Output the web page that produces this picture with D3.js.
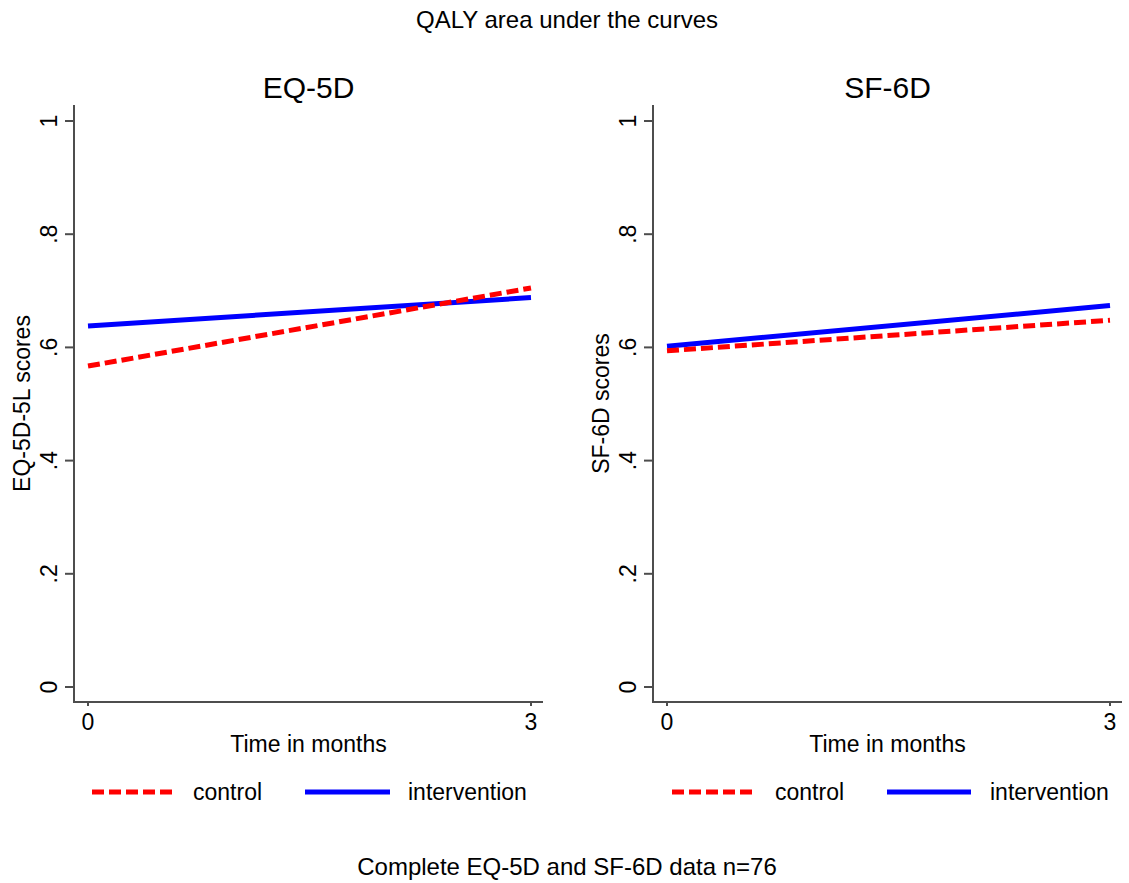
<!DOCTYPE html>
<html><head><meta charset="utf-8">
<script src="https://cdn.jsdelivr.net/npm/d3@7"></script>
<style>body{margin:0;background:#fff}text{font-family:"Liberation Sans",Arial,sans-serif;fill:#000}</style>
</head><body><svg id="c" width="1129" height="883"></svg>
<script>
const times = [0, 3];
const yTicks = [0, 0.2, 0.4, 0.6, 0.8, 1];
const yTickLabels = ["0", ".2", ".4", ".6", ".8", "1"];
const panelTitles = ["EQ-5D", "SF-6D"];
const yAxisTitles = ["EQ-5D-5L scores", "SF-6D scores"];
const eqControl = [0.567, 0.705];
const eqIntervention = [0.638, 0.688];
const sfControl = [0.594, 0.648];
const sfIntervention = [0.602, 0.674];
const seriesNames = ["control", "intervention"];

const svg = d3.select("#c");
const W = 1129, H = 883;
svg.append("rect").attr("width", W).attr("height", H).attr("fill", "#fff");

svg.append("text").attr("x", 567).attr("y", 28).attr("text-anchor", "middle")
  .style("font-size", "24px").text("QALY area under the curves");
svg.append("text").attr("x", 567).attr("y", 875).attr("text-anchor", "middle")
  .style("font-size", "24px").text("Complete EQ-5D and SF-6D data n=76");

const panels = [
  {axisX: 74, x0: 88, x1: 531, xEnd: 543, title: panelTitles[0], ytitle: yAxisTitles[0], ctrl: eqControl, intv: eqIntervention,
   leg: [92, 173, 193, 305, 390, 408]},
  {axisX: 653, x0: 667, x1: 1110, xEnd: 1122, title: panelTitles[1], ytitle: yAxisTitles[1], ctrl: sfControl, intv: sfIntervention,
   leg: [672, 754, 775, 887, 971, 990]}
];
const y = d3.scaleLinear().domain([0, 1]).range([687, 121]);
const axisY = 702, axisTop = 105;
const axisColor = "#4d4d4d";
const fs = "23px";

panels.forEach(p => {
  const g = svg.append("g");
  const x = d3.scaleLinear().domain([0, 3]).range([p.x0, p.x1]);
  g.append("line").attr("x1", p.axisX).attr("x2", p.axisX).attr("y1", axisTop).attr("y2", axisY + 1)
    .attr("stroke", axisColor).attr("stroke-width", 2);
  g.append("line").attr("x1", p.axisX - 1).attr("x2", p.xEnd).attr("y1", axisY).attr("y2", axisY)
    .attr("stroke", axisColor).attr("stroke-width", 2);
  yTicks.forEach((v, i) => {
    g.append("line").attr("x1", p.axisX - 9).attr("x2", p.axisX).attr("y1", y(v)).attr("y2", y(v))
      .attr("stroke", axisColor).attr("stroke-width", 2);
    g.append("text").attr("transform", `translate(${p.axisX - 17},${y(v)}) rotate(-90)`)
      .attr("text-anchor", "middle").style("font-size", fs).text(yTickLabels[i]);
  });
  times.forEach(t => {
    g.append("line").attr("x1", x(t)).attr("x2", x(t)).attr("y1", axisY).attr("y2", axisY + 4)
      .attr("stroke", axisColor).attr("stroke-width", 2);
    g.append("text").attr("x", x(t)).attr("y", 730).attr("text-anchor", "middle")
      .style("font-size", fs).text(t);
  });
  g.append("text").attr("x", (p.axisX + p.xEnd) / 2).attr("y", 752).attr("text-anchor", "middle")
    .style("font-size", fs).text("Time in months");
  g.append("text").attr("transform", `translate(${p.axisX - 44},${(axisTop + axisY) / 2}) rotate(-90)`)
    .attr("text-anchor", "middle").style("font-size", fs).text(p.ytitle);
  g.append("text").attr("x", (p.axisX + p.xEnd) / 2).attr("y", 98).attr("text-anchor", "middle")
    .style("font-size", "30px").text(p.title);

  const line = d3.line().x((d, i) => x(times[i])).y(d => y(d));
  g.append("path").datum(p.intv).attr("d", line).attr("fill", "none")
    .attr("stroke", "#0000ff").attr("stroke-width", 5);
  g.append("path").datum(p.ctrl).attr("d", line).attr("fill", "none")
    .attr("stroke", "#ff0000").attr("stroke-width", 5).attr("stroke-dasharray", "12,5");

  const ly = 792, L = p.leg;
  g.append("line").attr("x1", L[0]).attr("x2", L[1]).attr("y1", ly).attr("y2", ly)
    .attr("stroke", "#ff0000").attr("stroke-width", 5).attr("stroke-dasharray", "12,5");
  g.append("text").attr("x", L[2]).attr("y", ly + 8).style("font-size", fs).text(seriesNames[0]);
  g.append("line").attr("x1", L[3]).attr("x2", L[4]).attr("y1", ly).attr("y2", ly)
    .attr("stroke", "#0000ff").attr("stroke-width", 5);
  g.append("text").attr("x", L[5]).attr("y", ly + 8).style("font-size", fs).text(seriesNames[1]);
});
</script></body></html>
